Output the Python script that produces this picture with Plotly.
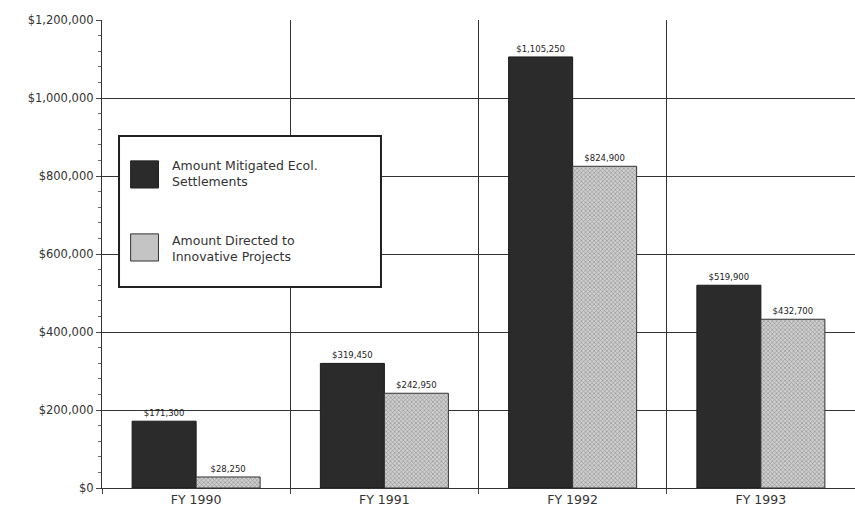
import plotly.graph_objects as go

categories = ["FY 1990", "FY 1991", "FY 1992", "FY 1993"]
mitigated = [171300, 319450, 1105250, 519900]
innovative = [28250, 242950, 824900, 432700]
series_names = ["Amount Mitigated Ecol.<br>Settlements", "Amount Directed to<br>Innovative Projects"]
y_ticks = [0, 200000, 400000, 600000, 800000, 1000000, 1200000]
y_tick_labels = ["$0", "$200,000", "$400,000", "$600,000", "$800,000", "$1,000,000", "$1,200,000"]

FONT = "DejaVu Sans, Verdana, sans-serif"
DARK = "#2b2b2b"
LIGHT = "#c4c4c4"

fig = go.Figure()
fig.add_trace(go.Bar(
    x=categories, y=mitigated, name=series_names[0], showlegend=False,
    marker=dict(color=DARK, line=dict(color="#1a1a1a", width=1)),
    texttemplate="$%{y:,}", textposition="outside", cliponaxis=False,
    textfont=dict(size=8.5, color="#222", family=FONT),
))
fig.add_trace(go.Bar(
    x=categories, y=innovative, name=series_names[1], showlegend=False,
    marker=dict(color=LIGHT, line=dict(color="#333", width=1),
                pattern=dict(shape="x", fgcolor="#4a4a4a", bgcolor="#cfcfcf", size=3, solidity=0.35)),
    texttemplate="$%{y:,}", textposition="outside", cliponaxis=False,
    textfont=dict(size=8.5, color="#222", family=FONT),
))

# Manual legend box (paper coordinates)
shapes = [
    dict(type="rect", xref="paper", yref="paper", x0=0.0226, x1=0.3705, y0=0.4295, y1=0.752,
         line=dict(color="#222", width=2), fillcolor="white", layer="above"),
    dict(type="rect", xref="paper", yref="paper", x0=0.038, x1=0.075, y0=0.641, y1=0.699,
         line=dict(color="#222", width=1), fillcolor=DARK, layer="above"),
    dict(type="rect", xref="paper", yref="paper", x0=0.038, x1=0.075, y0=0.485, y1=0.543,
         line=dict(color="#333", width=1), fillcolor=LIGHT, layer="above"),
]
annotations = [
    dict(xref="paper", yref="paper", x=0.09, y=0.672, xanchor="left", yanchor="middle",
         text=series_names[0], showarrow=False, align="left",
         font=dict(size=12.5, color="#333", family=FONT)),
    dict(xref="paper", yref="paper", x=0.09, y=0.512, xanchor="left", yanchor="middle",
         text=series_names[1], showarrow=False, align="left",
         font=dict(size=12.5, color="#333", family=FONT)),
]

fig.update_layout(
    width=855, height=515,
    margin=dict(l=102, r=0, t=20, b=27),
    paper_bgcolor="white", plot_bgcolor="white",
    barmode="group", bargap=0.32, bargroupgap=0,
    font=dict(family=FONT, size=11, color="#333"),
    showlegend=False,
    shapes=shapes, annotations=annotations,
    xaxis=dict(
        tickson="boundaries", showgrid=True, gridcolor="#333", gridwidth=1.3,
        ticks="outside", ticklen=5, tickcolor="#444",
        showline=True, linecolor="#333", linewidth=1.3,
        tickfont=dict(size=12.5, color="#333"),
    ),
    yaxis=dict(
        range=[0, 1200000], tickmode="array", tickvals=y_ticks, ticktext=y_tick_labels,
        showgrid=True, gridcolor="#333", gridwidth=1.3,
        zeroline=True, zerolinecolor="#333", zerolinewidth=1.3,
        showline=True, linecolor="#333", linewidth=1.3,
        ticks="outside", ticklen=5, tickcolor="#444",
        minor=dict(dtick=40000, ticks="outside", ticklen=3, tickcolor="#666", showgrid=False),
        tickfont=dict(size=11.5, color="#333"),
    ),
)

fig.write_html("out.html")
